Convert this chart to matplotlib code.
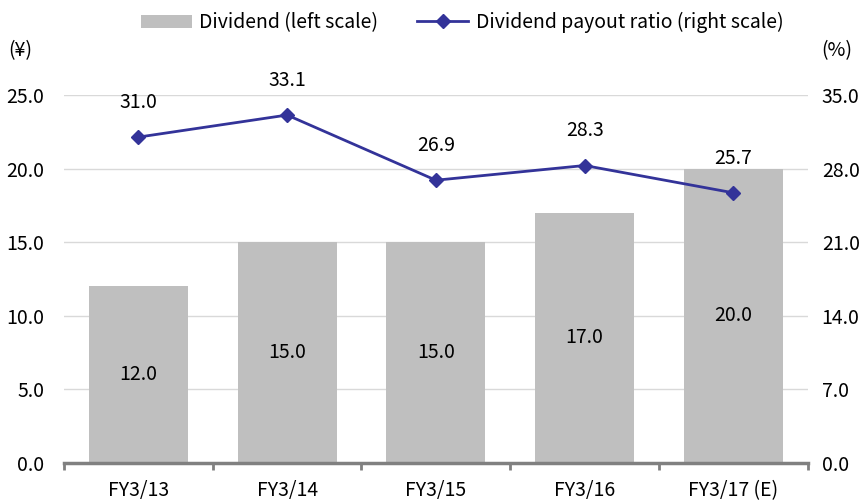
import matplotlib.pyplot as plt
from matplotlib.ticker import FormatStrFormatter, FixedLocator

plt.rcParams['font.family'] = ['Noto Sans CJK JP', 'DejaVu Sans']
plt.rcParams['font.size'] = 14

years = ["FY3/13", "FY3/14", "FY3/15", "FY3/16", "FY3/17 (E)"]
dividend = [12.0, 15.0, 15.0, 17.0, 20.0]
payout = [31.0, 33.1, 26.9, 28.3, 25.7]

fig = plt.figure(figsize=(8.64, 5.03), dpi=100)
ax = fig.add_axes([0.074, 0.0795, 0.861, 0.7315])
ax2 = ax.twinx()

x = range(len(years))
bars = ax.bar(x, dividend, width=0.665, color='#bfbfbf', zorder=2)
for xi, v in zip(x, dividend):
    ax.text(xi, v / 2, f"{v:.1f}", ha='center', va='center')

ax.set_xlim(-0.5, len(years) - 0.5)
ax.set_ylim(0, 25)
ax.set_yticks([0, 5, 10, 15, 20, 25])
ax.yaxis.set_major_formatter(FormatStrFormatter('%.1f'))
ax.grid(axis='y', color='#d9d9d9', linewidth=1, zorder=0)
ax.set_axisbelow(True)
ax.set_xticks(list(x))
ax.set_xticklabels(years)
ax.xaxis.set_minor_locator(FixedLocator([i - 0.5 for i in range(len(years) + 1)]))
ax.tick_params(axis='x', which='major', length=0, pad=12)
ax.tick_params(axis='x', which='minor', length=5, width=2, color='#808080')
ax.tick_params(axis='y', length=0, pad=14)

for s in ['top', 'left', 'right']:
    ax.spines[s].set_visible(False)
ax.spines['bottom'].set_color('#808080')
ax.spines['bottom'].set_linewidth(2.5)

line, = ax2.plot(list(x), payout, color='#333399', linewidth=2, marker='D',
                 markersize=7, zorder=3)
for xi, v in zip(x, payout):
    ax2.annotate(f"{v:.1f}", (xi, v), xytext=(0, 25), textcoords='offset points',
                 ha='center', va='center')
ax2.set_ylim(0, 35)
ax2.set_yticks([0, 7, 14, 21, 28, 35])
ax2.yaxis.set_major_formatter(FormatStrFormatter('%.1f'))
ax2.tick_params(axis='y', length=0, pad=10)
for s in ['top', 'left', 'right', 'bottom']:
    ax2.spines[s].set_visible(False)

fig.text(0.01, 0.9, "(¥)", ha='left', va='center')
fig.text(0.951, 0.9, "(%)", ha='left', va='center')

fig.legend([bars, line], ['Dividend (left scale)', 'Dividend payout ratio (right scale)'],
           loc='center', bbox_to_anchor=(0.535, 0.955), ncol=2, frameon=False,
           handlelength=2.6, columnspacing=2.0, handletextpad=0.4)

fig.savefig("out.png", dpi=100)
